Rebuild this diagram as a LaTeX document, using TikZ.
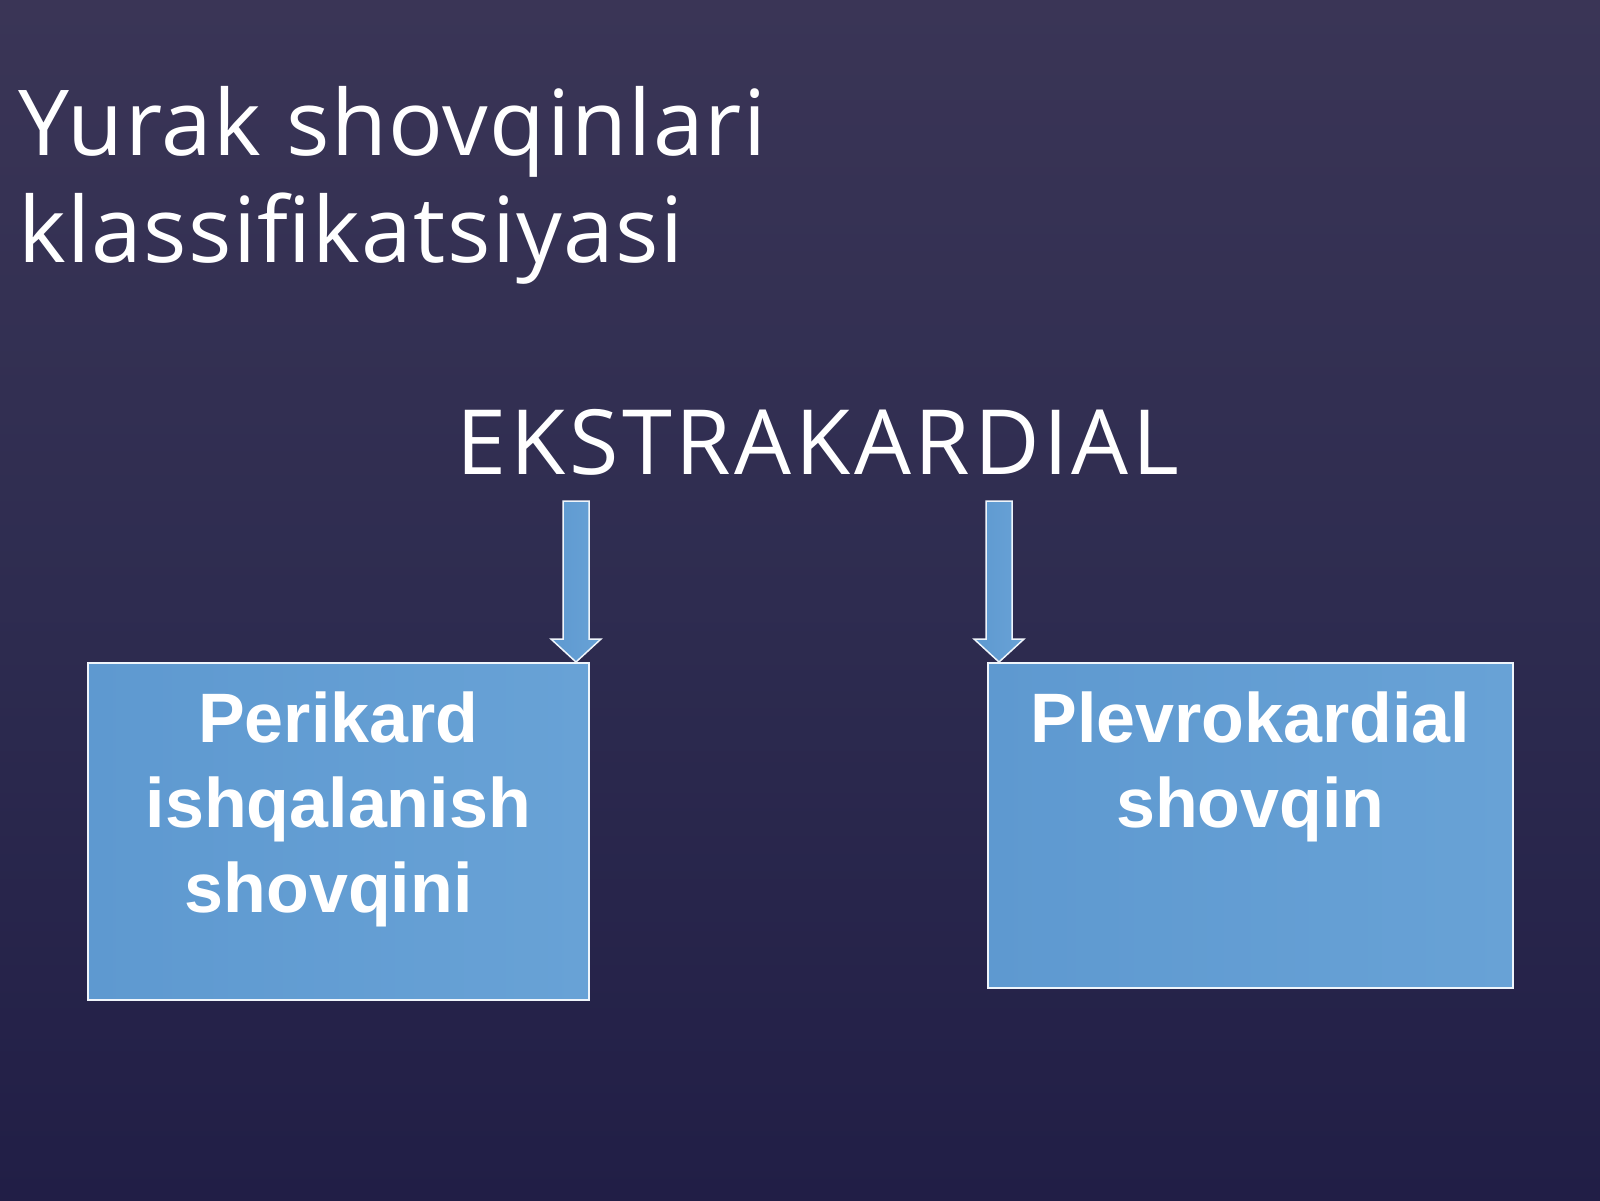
\documentclass[tikz,border=0pt]{standalone}
\usepackage{fontspec}
\setmainfont{Liberation Sans}
\newfontfamily\titlefont[LetterSpace=1.5]{Open Sans}
\newfontfamily\headfont[LetterSpace=4]{Open Sans}
\usetikzlibrary{calc}
\definecolor{bgtop}{HTML}{3A3556}
\definecolor{bgmid}{HTML}{2E2C50}
\definecolor{bgbot}{HTML}{211E46}
\definecolor{boxblue}{HTML}{639DD3}
\definecolor{boxblueL}{HTML}{68A2D6}
\definecolor{boxblueD}{HTML}{5E99D0}
\tikzset{
  titletext/.style={text=white, font=\titlefont\fontsize{91}{107}\selectfont, inner sep=0pt, align=left},
  headtext/.style={text=white, font=\headfont\fontsize{90}{100}\selectfont, inner sep=0pt},
  bluebox/.style={draw=white!90!boxblue, line width=1.5pt, left color=boxblueD, right color=boxblueL, inner sep=0pt, anchor=north west},
  boxtext/.style={text=white, font=\bfseries\fontsize{70}{85}\selectfont, align=center, inner sep=0pt, anchor=base},
  arrowfill/.style={draw=white!90!boxblue, line width=1.5pt, left color=boxblueD, right color=boxblueL},
  blockarrow/.pic={\path[arrowfill] (-13,0) -- (13,0) -- (13,138) -- (25,138) -- (0,161) -- (-25,138) -- (-13,138) -- cycle;}
}
\begin{document}
\begin{tikzpicture}[x=1pt,y=-1pt]
\useasboundingbox (0,0) rectangle (1600,1200);
\shade[top color=bgtop, bottom color=bgmid] (0,0) rectangle (1600,600);
\shade[top color=bgmid, bottom color=bgbot] (0,600) rectangle (1600,1200);
% title
\node[titletext, anchor=base west] (t1) at (18,155) {Yurak shovqinlari};
\node[titletext, anchor=base west] (t2) at (18,262) {klassifikatsiyasi};
% heading
\node[headtext, anchor=base] (head) at (818,474) {EKSTRAKARDIAL};
% boxes
\node[bluebox, minimum width=501pt, minimum height=337pt] (lb) at (87,662) {};
\node[bluebox, minimum width=525pt, minimum height=325pt] (rb) at (987,662) {};
\node[boxtext] (lbt) at ($(lb.north)+(0,250)$) {Perikard\\ishqalanish\\shovqini\hspace*{0.278em}};
\node[boxtext] (rbt) at ($(rb.north)+(0,165)$) {Plevrokardial\\shovqin};
% arrows
\coordinate (la) at ($(lb.north east)+(-13.5,-161)$);
\coordinate (ra) at ($(rb.north west)+(12,-161)$);
\pic at (la) {blockarrow};
\pic at (ra) {blockarrow};
\end{tikzpicture}
\end{document}
